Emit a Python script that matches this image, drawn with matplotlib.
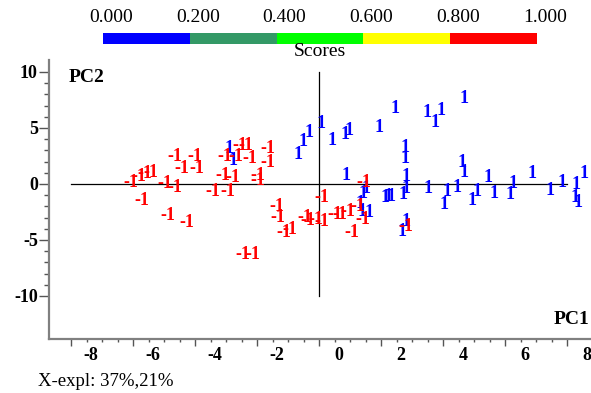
import numpy as np
import matplotlib
matplotlib.use("Agg")
import matplotlib.pyplot as plt
import matplotlib.transforms as mtransforms
from matplotlib.ticker import FixedLocator

plt.rcParams['font.family'] = ['Liberation Serif', 'DejaVu Serif']
plt.rcParams['axes.unicode_minus'] = False

# PCA scores, class 1 (blue)
pos_pc1 = [-0.68, -0.52, -0.32, 0.06, 0.42, 0.84, 0.97, 1.94, 2.45, 3.48,
           3.74, 3.94, 4.68, 2.77, 2.77, 2.81, 2.81, 2.71, 2.13, 2.23,
           2.32, 3.52, 4.13, 4.03, 4.45, 4.61, 4.68, 5.10, 4.94, 5.45,
           5.65, 6.16, 6.26, 6.87, 7.45, 7.84, 8.29, 8.26, 8.35, 8.55,
           0.87, 1.52, 1.42, 1.32, 1.39, 1.61, 2.81, 2.68, -2.90, -2.77]
pos_pc2 = [2.59, 3.75, 4.64, 5.36, 3.84, 4.46, 4.82, 5.00, 6.70, 6.34,
           5.45, 6.52, 7.59, 3.30, 2.32, 0.63, -0.36, -0.98, -1.25, -1.16,
           -1.16, -0.36, -0.71, -1.79, -0.27, 1.88, 1.07, -0.71, -1.43, 0.54,
           -0.89, -0.98, 0.05, 0.98, -0.54, 0.09, -0.09, -1.25, -1.61, 0.98,
           0.80, -0.36, -0.89, -1.70, -2.50, -2.59, -3.39, -4.20, 3.21, 2.14]

# PCA scores, class -1 (red)
neg_pc1 = [-4.65, -4.00, -4.42, -3.94, -6.06, -5.81, -5.61, -5.42, -5.71, -4.97,
           -4.65, -4.87, -4.26, -3.42, -2.94, -2.55, -2.35, -3.03, -2.68, -2.23,
           -1.65, -1.65, -3.10, -2.77, -1.97, -1.97, -1.35, -1.32, -1.13, -0.94,
           0.10, -0.45, -0.35, -0.10, 0.10, 0.52, 0.68, 0.94, 1.26, 1.42,
           1.06, 1.45, 2.81, -2.45, -2.13]
neg_pc2 = [2.41, 2.41, 1.34, 1.34, 0.09, 0.63, 0.98, 1.07, -1.43, 0.00,
           -0.27, -2.77, -3.48, -0.71, -0.63, 3.48, 3.48, 2.41, 2.41, 2.32,
           3.13, 1.96, 0.80, 0.54, 0.80, 0.27, -2.05, -2.95, -4.29, -4.02,
           -1.25, -2.95, -3.30, -3.13, -3.39, -2.68, -2.68, -2.50, -2.05, -3.21,
           -4.29, 0.09, -3.84, -6.34, -6.34]

score_ticks = ['0.000', '0.200', '0.400', '0.600', '0.800', '1.000']
score_colors = ['#0000ff', '#339966', '#00ff00', '#ffff00', '#ff0000']

fig = plt.figure(figsize=(5.91, 3.93), dpi=100)
ax = fig.add_axes([49/591, 54/393, 542/591, 279/393])

# cross through the origin
ax.plot([-8, 8], [0, 0], color='black', lw=0.9)
ax.plot([0, 0], [-10, 10], color='black', lw=0.9)

for x, y in zip(pos_pc1, pos_pc2):
    ax.text(x, y, '1', color='#0000ff', fontsize=13, fontweight='bold',
            ha='center', va='center')
for x, y in zip(neg_pc1, neg_pc2):
    ax.text(x, y, '-1', color='#ff0000', fontsize=13, fontweight='bold',
            ha='center', va='center')

ax.set_xlim(-8.71, 8.77)
ax.set_ylim(-13.84, 11.07)

for s in ['top', 'right']:
    ax.spines[s].set_visible(False)
for s in ['left', 'bottom']:
    ax.spines[s].set_color('#808080')
    ax.spines[s].set_linewidth(1.6)

ax.set_xticks(np.arange(-8, 9, 2))
ax.xaxis.set_minor_locator(FixedLocator(np.arange(-8, 8.01, 0.5)))
ax.set_yticks([-10, -5, 0, 5, 10])
ax.yaxis.set_minor_locator(FixedLocator(np.arange(-10, 10.01, 1)))
ax.tick_params(axis='x', which='major', length=5, width=1, color='#555555', pad=0.5,
               labelsize=13)
ax.tick_params(axis='x', which='minor', length=2.5, width=1, color='#555555')
ax.tick_params(axis='y', which='major', length=7, width=1, color='#555555', pad=1,
               labelsize=13)
ax.tick_params(axis='y', which='minor', length=3.5, width=1, color='#555555')
for lab in ax.get_xticklabels() + ax.get_yticklabels():
    lab.set_fontweight('bold')

# x labels sit to the right of their tick marks
shift = mtransforms.ScaledTranslation(20/100, 0, fig.dpi_scale_trans)
for lab in ax.get_xticklabels():
    lab.set_transform(lab.get_transform() + shift)

fig.text(87/591, 1 - 77/393, 'PC2', fontsize=14, fontweight='bold',
         ha='center', va='center')
fig.text(572/591, 1 - 320/393, 'PC1', fontsize=14, fontweight='bold',
         ha='center', va='center')
fig.text(38/591, 1 - 381/393, 'X-expl: 37%,21%', fontsize=13.5,
         ha='left', va='center')

# score colour scale
cax = fig.add_axes([103/591, 1 - 44/393, 434/591, 11/393])
cax.barh(0, [0.2] * 5, left=[0, 0.2, 0.4, 0.6, 0.8], height=1,
         color=score_colors, edgecolor='none')
cax.set_xlim(0, 1)
cax.set_ylim(-0.5, 0.5)
cax.axis('off')
for i, t in enumerate(score_ticks):
    fig.text((103 + 86.8 * i + 8)/591, 1 - 18/393, t, fontsize=14,
             ha='center', va='center')
fig.text(320/591, 1 - 51/393, 'Scores', fontsize=14, ha='center', va='center')

fig.savefig('out.png', dpi=100)
